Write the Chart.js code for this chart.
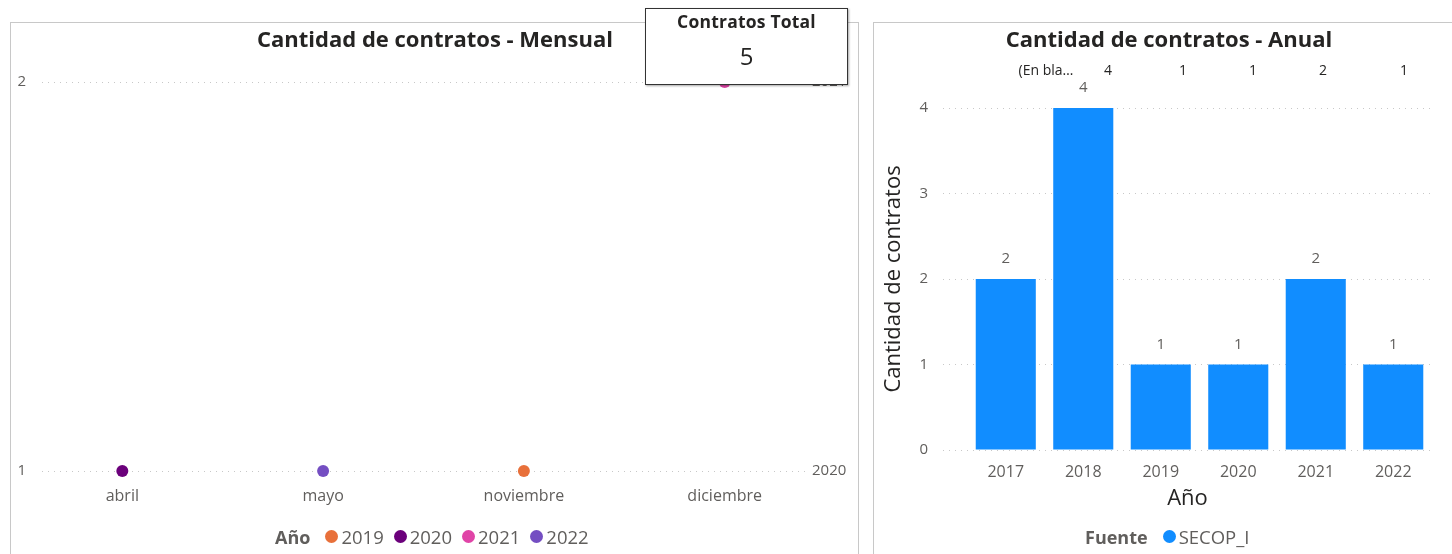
<!DOCTYPE html>
<html>
<head>
<meta charset="utf-8">
<script src="https://cdn.jsdelivr.net/npm/chart.js@4/dist/chart.umd.min.js"></script>
<style>
  html, body { margin: 0; padding: 0; background: #fff; }
  body { width: 1452px; height: 554px; position: relative; overflow: hidden; font-family: "Open Sans", "Noto Sans", sans-serif; }
  .panel { position: absolute; border: 1px solid #c8c8c8; }
  #panelLeft  { left: 10px;  top: 22px; width: 847px; height: 560px; }
  #panelRight { left: 873px; top: 22px; width: 600px; height: 560px; }
  canvas { position: absolute; top: 0; }
  #cMensual { left: 0; }
  #cAnual   { left: 860px; }
  .card {
    position: absolute; left: 645px; top: 8px; width: 201px; height: 75px;
    background: #fff; border: 1px solid #333; box-shadow: 1px 1px 2px rgba(0,0,0,0.35);
    text-align: center; color: #252423;
  }
  .card .t { font-weight: 700; font-size: 17.5px; margin-top: 0px; letter-spacing: 0.2px; }
  .card .v { font-size: 24px; margin-top: 6px; }
  .legend { position: absolute; top: 524px; display: flex; align-items: center; font-size: 18.5px; color: #605e5c; white-space: nowrap; }
  .legend b { color: #605e5c; margin-right: 15px; font-size: 18px; }
  .legend .dot { display: inline-block; width: 13px; height: 13px; border-radius: 50%; margin-right: 3px; }
  .legend .item { display: flex; align-items: center; margin-right: 10px; }
</style>
</head>
<body>
<div class="panel" id="panelLeft"></div>
<div class="panel" id="panelRight"></div>
<canvas id="cMensual" width="860" height="554"></canvas>
<canvas id="cAnual" width="592" height="554"></canvas>
<div class="card"><div class="t">Contratos Total</div><div class="v" id="cardValue"></div></div>
<div class="legend" id="legendMensual" style="left:275px"></div>
<div class="legend" id="legendAnual" style="left:1085px"></div>

<script>
/* ── Data: Cantidad de contratos - Mensual ─────────── */
const months = ["abril", "mayo", "noviembre", "diciembre"];
const years = ["2019", "2020", "2021", "2022"];
const mensual2019 = [null, null, 1, null];
const mensual2020 = [1, null, null, null];
const mensual2021 = [null, null, null, 2];
const mensual2022 = [null, 1, null, null];
const endLabels = [{ y: 2, text: "2021" }, { y: 1, text: "2020" }];

/* ── Data: Cantidad de contratos - Anual ───────────── */
const anios = ["2017", "2018", "2019", "2020", "2021", "2022"];
const anualValues = [2, 4, 1, 1, 2, 1];
const topRowLabel = "(En bla…";
const topRowValues = [4, 1, 1, 2, 1];
const fuentes = ["SECOP_I"];
const contratosTotal = 5;

/* ── Styles ────────────────────────────────────────── */
const yearColors = ["#e8703a", "#6b007b", "#e044a7", "#744ec2"];
const barColor = "#118dff";
const FONT = "'Open Sans', 'Noto Sans', sans-serif";
const tickColor = "#605e5c";
const titleColor = "#252423";
const gridStyle = { color: "#c8c8c8", lineWidth: 1, drawTicks: false };
const gridDash = [1, 5];

document.getElementById("cardValue").textContent = contratosTotal;

/* ── Legends (HTML, inline title like Power BI) ────── */
function buildLegend(id, title, names, colors) {
  const el = document.getElementById(id);
  el.innerHTML = `<b>${title}</b>` + names.map((n, i) =>
    `<span class="item"><span class="dot" style="background:${colors[i]}"></span>${n}</span>`).join("");
}
buildLegend("legendMensual", "Año", years, yearColors);
buildLegend("legendAnual", "Fuente", fuentes, [barColor]);

/* ── Plugin: custom title text ─────────────────────── */
const titleText = {
  id: "titleText",
  afterDraw(chart, args, opts) {
    const ctx = chart.ctx;
    ctx.save();
    ctx.font = `700 22px ${FONT}`;
    ctx.fillStyle = titleColor;
    ctx.textAlign = "center";
    ctx.textBaseline = "middle";
    ctx.fillText(opts.text, opts.x, opts.y);
    ctx.restore();
  }
};

/* ── Chart 1: Mensual ──────────────────────────────── */
const mensualSeries = [mensual2019, mensual2020, mensual2021, mensual2022];

const endLabelPlugin = {
  id: "endLabels",
  afterDraw(chart) {
    const { ctx, chartArea, scales } = chart;
    ctx.save();
    ctx.font = `15px ${FONT}`;
    ctx.fillStyle = tickColor;
    ctx.textAlign = "left";
    ctx.textBaseline = "middle";
    endLabels.forEach(l => ctx.fillText(l.text, chartArea.right + 7, scales.y.getPixelForValue(l.y)));
    ctx.restore();
  }
};

new Chart(document.getElementById("cMensual"), {
  type: "line",
  data: {
    datasets: years.map((yr, k) => ({
      label: yr,
      data: mensualSeries[k].map((v, i) => ({ x: i, y: v })).filter(p => p.y !== null),
      showLine: false,
      pointRadius: 6,
      pointHoverRadius: 6,
      pointBorderWidth: 0,
      backgroundColor: yearColors[k],
      borderColor: yearColors[k],
      clip: false
    }))
  },
  options: {
    responsive: false,
    animation: false,
    layout: { padding: { top: 82, right: 55, left: 0, bottom: 0 } },
    plugins: {
      legend: { display: false },
      tooltip: { enabled: false },
      titleText: { text: "Cantidad de contratos - Mensual", x: 435, y: 41 }
    },
    scales: {
      x: {
        type: "linear", min: -0.4, max: 3.4, offset: false,
        afterBuildTicks: s => { s.ticks = months.map((m, i) => ({ value: i })); },
        afterFit: s => { s.height = 83; },
        ticks: { callback: v => months[v], color: tickColor, font: { family: FONT, size: 16 }, padding: 8, maxRotation: 0, autoSkip: false },
        grid: { display: false },
        border: { display: false }
      },
      y: {
        min: 1, max: 2,
        afterFit: s => { s.width = 42; },
        ticks: { stepSize: 1, color: tickColor, font: { family: FONT, size: 15 }, padding: 16 },
        grid: gridStyle,
        border: { display: false, dash: gridDash }
      }
    }
  },
  plugins: [titleText, endLabelPlugin]
});

/* ── Chart 2: Anual ────────────────────────────────── */
const barLabels = {
  id: "barLabels",
  afterDraw(chart) {
    const { ctx } = chart;
    const meta = chart.getDatasetMeta(0);
    ctx.save();
    ctx.font = `15px ${FONT}`;
    ctx.fillStyle = tickColor;
    ctx.textAlign = "center";
    ctx.textBaseline = "middle";
    meta.data.forEach((bar, i) => ctx.fillText(anualValues[i], bar.x, bar.y - 20));
    // top row (En blanco) values
    ctx.fillStyle = titleColor;
    ctx.font = `14px ${FONT}`;
    const rowY = 71;
    ctx.fillText(topRowLabel, 1046 - 860, rowY);
    const rowX = [1108, 1183, 1253, 1323, 1404];
    topRowValues.forEach((v, i) => ctx.fillText(v, rowX[i] - 860, rowY));
    ctx.restore();
  }
};

new Chart(document.getElementById("cAnual"), {
  type: "bar",
  data: {
    datasets: [{
      label: fuentes[0],
      data: anualValues.map((v, i) => ({ x: i, y: v })),
      backgroundColor: barColor,
      barPercentage: 0.775,
      categoryPercentage: 1
    }]
  },
  options: {
    responsive: false,
    animation: false,
    layout: { padding: { top: 108, right: 20, left: 17, bottom: 0 } },
    plugins: {
      legend: { display: false },
      tooltip: { enabled: false },
      titleText: { text: "Cantidad de contratos - Anual", x: 1169 - 860, y: 41 }
    },
    scales: {
      x: {
        type: "linear", min: -0.81, max: 5.5, offset: false,
        afterBuildTicks: s => { s.ticks = anios.map((a, i) => ({ value: i })); },
        afterFit: s => { s.height = 104; },
        ticks: { callback: v => anios[v], color: tickColor, font: { family: FONT, size: 16 }, padding: 5, maxRotation: 0, autoSkip: false },
        grid: { display: false },
        border: { display: false },
        title: { display: true, text: "Año", color: titleColor, font: { family: FONT, size: 22 }, padding: { top: 0, bottom: 42 } }
      },
      y: {
        min: 0, max: 4,
        afterFit: s => { s.width = 66; },
        ticks: { stepSize: 1, color: tickColor, font: { family: FONT, size: 15 }, padding: 15 },
        grid: gridStyle,
        border: { display: false, dash: gridDash },
        title: { display: true, text: "Cantidad de contratos", color: titleColor, font: { family: FONT, size: 22 }, padding: { top: 4, bottom: 4 } }
      }
    }
  },
  plugins: [titleText, barLabels]
});
</script>
</body>
</html>
